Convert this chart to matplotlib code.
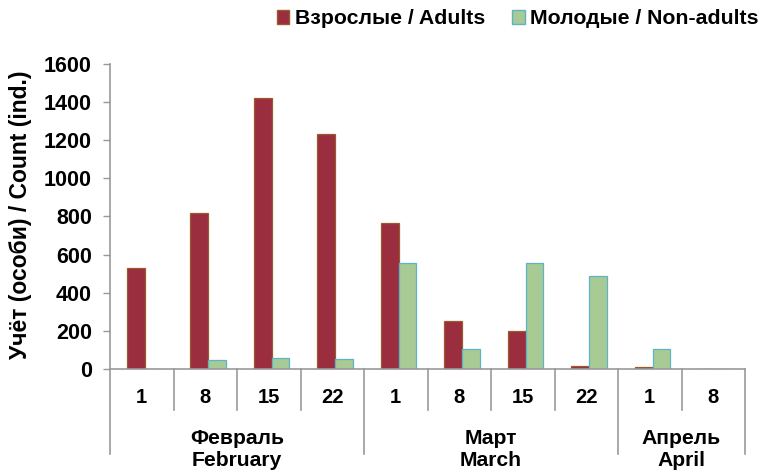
import matplotlib
matplotlib.use("Agg")
import matplotlib.pyplot as plt
import matplotlib.transforms as mtransforms
from matplotlib.lines import Line2D
from matplotlib.patches import Patch
import numpy as np

plt.rcParams['font.family'] = ['Liberation Sans', 'DejaVu Sans']
plt.rcParams['font.weight'] = 'bold'

days = ["1", "8", "15", "22", "1", "8", "15", "22", "1", "8"]
months = ["Февраль\nFebruary", "Март\nMarch", "Апрель\nApril"]
month_sizes = [4, 4, 2]
adults = [530, 820, 1420, 1235, 765, 252, 200, 15, 10, 0]
non_adults = [0, 45, 60, 55, 555, 105, 555, 488, 105, 0]
legend_labels = ["Взрослые / Adults", "Молодые / Non-adults"]
y_label = "Учёт (особи) / Count (ind.)"

adult_face = "#9A2E3E"
adult_edge = "#9A5A2E"
young_face = "#A8CA94"
young_edge = "#5DB4C8"
axis_gray = "#999999"

fig = plt.figure(figsize=(7.64, 4.73), dpi=100)
W, H = 764, 473
x0, x1, ytop, ybot = 110, 745, 64, 369
ax = fig.add_axes([x0 / W, (H - ybot) / H, (x1 - x0) / W, (ybot - ytop) / H])

n = len(days)
x = np.arange(n)
bw = 0.28
off = 0.045
ax.bar(x - bw / 2 + off, adults, bw, color=adult_face, edgecolor=adult_edge, linewidth=0.9, zorder=3)
ax.bar(x + bw / 2 + off, non_adults, bw, color=young_face, edgecolor=young_edge, linewidth=0.9, zorder=3)

ax.set_xlim(-0.5, n - 0.5)
ax.set_ylim(0, 1600)
ax.set_yticks(np.arange(0, 1601, 200))
ax.tick_params(axis='y', labelsize=15.5, length=5, width=1, color=axis_gray, direction='out', pad=8)
for lbl in ax.get_yticklabels():
    lbl.set_fontweight('bold')
ax.set_xticks([])
for s in ['top', 'right', 'left', 'bottom']:
    ax.spines[s].set_visible(False)

ah = ybot - ytop
def ay(py):
    return (ybot - py) / ah

trans = mtransforms.blended_transform_factory(ax.transData, ax.transAxes)
ax.add_line(Line2D([-0.5, -0.5], [ay(454), 1.0], transform=trans, color=axis_gray, lw=1.2, clip_on=False))
ax.add_line(Line2D([-0.5, n - 0.5], [0, 0], transform=trans, color=axis_gray, lw=1.2, clip_on=False, zorder=4))

bounds = np.cumsum([0] + month_sizes) - 0.5
for i in range(1, n + 1):
    xb = i - 0.5
    if np.any(np.isclose(bounds, xb)):
        yb = ay(454)
    else:
        yb = ay(410)
    ax.add_line(Line2D([xb, xb], [0, yb], transform=trans, color=axis_gray, lw=1.2, clip_on=False))

for i, d in enumerate(days):
    ax.text(i, ay(397), d, transform=trans, ha='center', va='center', fontsize=14.5, fontweight='bold')

start = 0
for m, s in zip(months, month_sizes):
    cx = start + (s - 1) / 2
    ax.text(cx, ay(449), m, transform=trans, ha='center', va='center', fontsize=15.2,
            fontweight='bold', linespacing=1.2)
    start += s

fig.text(21 / W, (H - 215) / H, y_label, rotation=90, ha='center', va='center',
         fontsize=16.5, fontweight='bold')

handles = [Patch(facecolor=adult_face, edgecolor=adult_edge), Patch(facecolor=young_face, edgecolor=young_edge)]
fig.legend(handles, legend_labels, loc='center right', bbox_to_anchor=(759 / W, (H - 19) / H),
           ncol=2, frameon=False, prop={'weight': 'bold', 'size': 15.3}, borderpad=0, borderaxespad=0,
           handlelength=0.6, handleheight=0.6, handletextpad=0.25, columnspacing=1.3)

fig.savefig("out.png", dpi=100)
